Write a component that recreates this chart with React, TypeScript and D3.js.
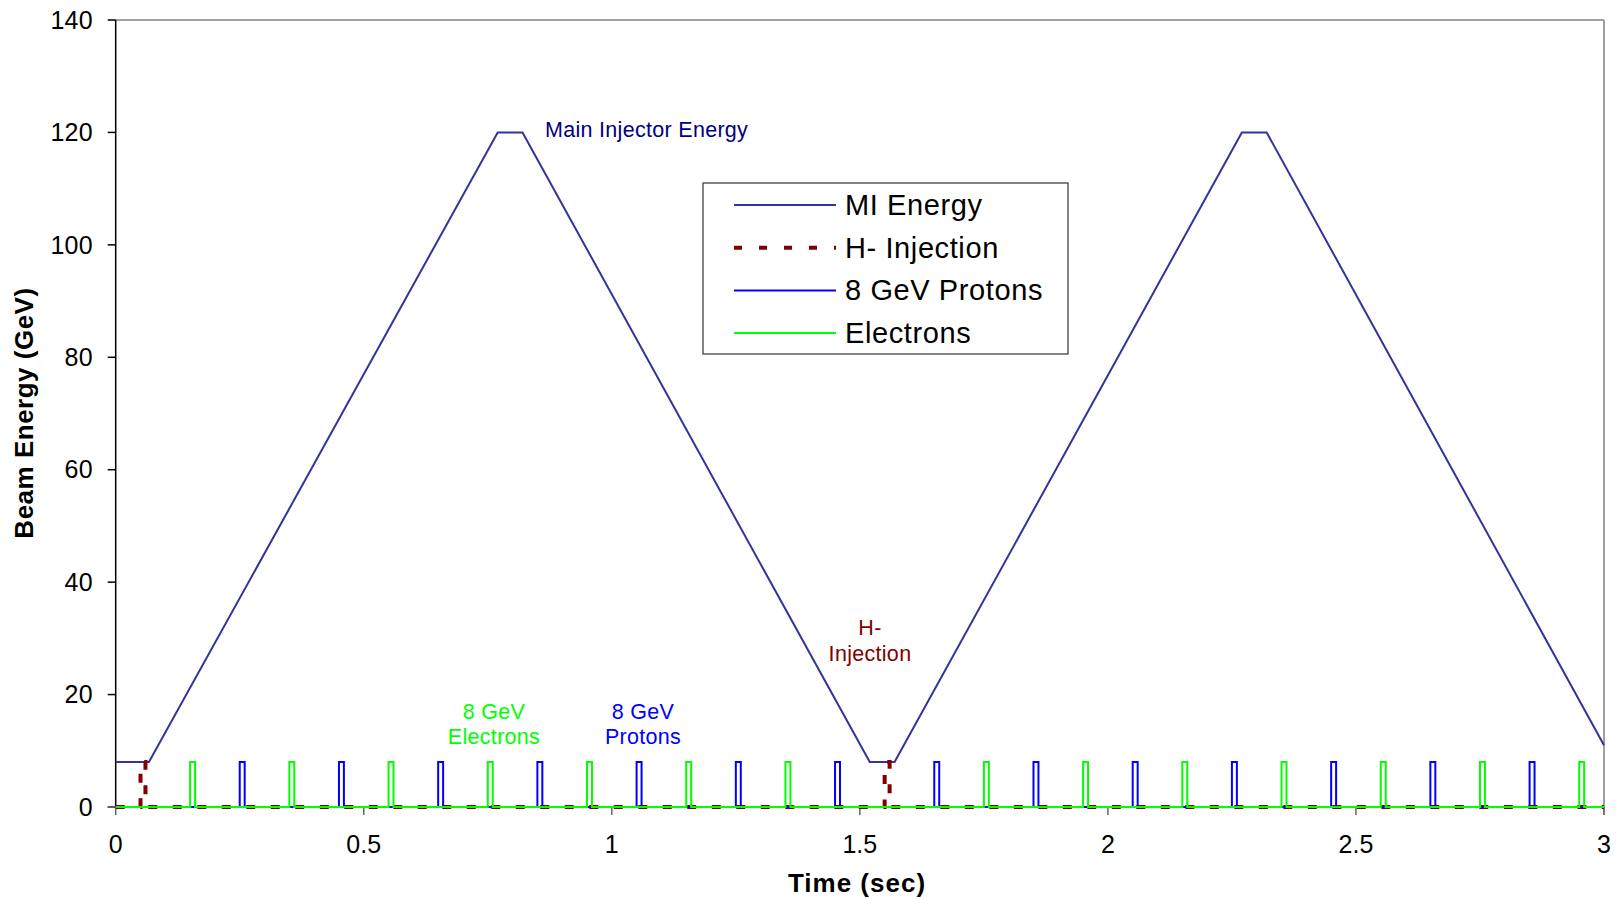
import React from "react";
import * as d3 from "d3";

// Main Injector energy ramp (time in sec, energy in GeV)
const miTime = [0, 0.067, 0.77, 0.82, 1.52, 1.57, 2.27, 2.32, 3.0];
const miEnergy = [8, 8, 120, 120, 8, 8, 120, 120, 11];

// pulse start times
const injectionStarts = [0.05, 1.55];
const protonStarts = [
  0.25, 0.45, 0.65, 0.85, 1.05, 1.25, 1.45,
  1.65, 1.85, 2.05, 2.25, 2.45, 2.65, 2.85,
];
const electronStarts = [
  0.15, 0.35, 0.55, 0.75, 0.95, 1.15, 1.35,
  1.75, 1.95, 2.15, 2.35, 2.55, 2.75, 2.95,
];
const pulseWidth = 0.01;
const pulseHeight = 8;

const xTicks = [0, 0.5, 1, 1.5, 2, 2.5, 3];
const yTicks = [0, 20, 40, 60, 80, 100, 120, 140];

const legendItems = [
  { label: "MI Energy", color: "#333399", dash: null },
  { label: "H- Injection", color: "#800000", dash: "8,17" },
  { label: "8 GeV Protons", color: "#0000ff", dash: null },
  { label: "Electrons", color: "#00ff00", dash: null },
];

const font = "Arial, 'Liberation Sans', sans-serif";

const pulseTrain = (starts: number[]): [number, number][] => {
  const pts: [number, number][] = [[0, 0]];
  starts.forEach((s) => {
    pts.push([s, 0], [s, pulseHeight], [s + pulseWidth, pulseHeight], [s + pulseWidth, 0]);
  });
  pts.push([3, 0]);
  return pts;
};

export default function App() {
  const W = 1623;
  const H = 899;
  const left = 115.7;
  const right = 1604;
  const top = 20;
  const bottom = 807;

  const x = d3.scaleLinear().domain([0, 3]).range([left, right]);
  const y = d3.scaleLinear().domain([0, 140]).range([bottom, top]);

  const line = d3
    .line<[number, number]>()
    .x((d) => x(d[0]))
    .y((d) => y(d[1]));

  const miPts: [number, number][] = miTime.map((t, i) => [t, miEnergy[i]]);

  const annot = { fontFamily: font, fontSize: 21.5, letterSpacing: 0.3 };

  return (
    <svg
      width={W}
      height={H}
      style={{ position: "absolute", left: 0, top: 0, background: "#fff" }}
    >
      {/* plot border */}
      <line x1={left} x2={right} y1={top} y2={top} stroke="#808080" strokeWidth={1.5} />
      <line x1={right} x2={right} y1={top} y2={bottom + 8} stroke="#808080" strokeWidth={1.5} />

      {/* y axis */}
      <line x1={left} x2={left} y1={top} y2={bottom} stroke="#000" strokeWidth={1.5} />
      {yTicks.map((t) => (
        <g key={"y" + t}>
          <line x1={left - 8} x2={left} y1={y(t)} y2={y(t)} stroke="#000" strokeWidth={1.5} />
          <text
            x={93}
            y={y(t)}
            dy="0.35em"
            textAnchor="end"
            fontFamily={font}
            fontSize={25}
            letterSpacing={0.3}
            fill="#000"
          >
            {t}
          </text>
        </g>
      ))}

      {/* x axis */}
      <line x1={left - 8} x2={right} y1={bottom} y2={bottom} stroke="#666" strokeWidth={1.5} />
      {xTicks.map((t) => (
        <g key={"x" + t}>
          <line x1={x(t)} x2={x(t)} y1={bottom} y2={bottom + 8} stroke="#666" strokeWidth={1.5} />
          <text
            x={x(t)}
            y={853}
            textAnchor="middle"
            fontFamily={font}
            fontSize={25}
            fill="#000"
          >
            {t}
          </text>
        </g>
      ))}

      {/* axis titles */}
      <text
        x={857}
        y={892}
        textAnchor="middle"
        fontFamily={font}
        fontSize={26}
        fontWeight="bold"
        letterSpacing={1}
      >
        Time (sec)
      </text>
      <text
        transform="translate(33,413) rotate(-90)"
        textAnchor="middle"
        fontFamily={font}
        fontSize={26}
        fontWeight="bold"
        letterSpacing={0.5}
      >
        Beam Energy (GeV)
      </text>

      {/* series */}
      <path d={line(miPts) || ""} fill="none" stroke="#333399" strokeWidth={2} />
      <path
        d={line(pulseTrain(injectionStarts)) || ""}
        fill="none"
        stroke="#800000"
        strokeWidth={4}
        strokeDasharray="9,15.5"
      />
      <path d={line(pulseTrain(protonStarts)) || ""} fill="none" stroke="#0000ff" strokeWidth={2} />
      <path d={line(pulseTrain(electronStarts)) || ""} fill="none" stroke="#00ff00" strokeWidth={2} />

      {/* annotations */}
      <text x={545} y={137} {...annot} fill="#000080">
        Main Injector Energy
      </text>
      <text x={870} y={635} textAnchor="middle" {...annot} fill="#800000">
        H-
      </text>
      <text x={870} y={661} textAnchor="middle" {...annot} fill="#800000">
        Injection
      </text>
      <text x={494} y={719} textAnchor="middle" {...annot} fill="#00ff00">
        8 GeV
      </text>
      <text x={494} y={744} textAnchor="middle" {...annot} fill="#00ff00">
        Electrons
      </text>
      <text x={643} y={719} textAnchor="middle" {...annot} fill="#0000ff">
        8 GeV
      </text>
      <text x={643} y={744} textAnchor="middle" {...annot} fill="#0000ff">
        Protons
      </text>

      {/* legend */}
      <rect x={703} y={183} width={365} height={171} fill="#fff" stroke="#333" strokeWidth={1.2} />
      {legendItems.map((it, i) => {
        const yy = 205 + i * 42.7;
        return (
          <g key={it.label}>
            <line
              x1={734}
              x2={836}
              y1={yy}
              y2={yy}
              stroke={it.color}
              strokeWidth={it.dash ? 4 : 2}
              strokeDasharray={it.dash || undefined}
            />
            <text
              x={845}
              y={yy + 10}
              fontFamily={font}
              fontSize={29}
              letterSpacing={0.6}
              fill="#000"
            >
              {it.label}
            </text>
          </g>
        );
      })}
    </svg>
  );
}
